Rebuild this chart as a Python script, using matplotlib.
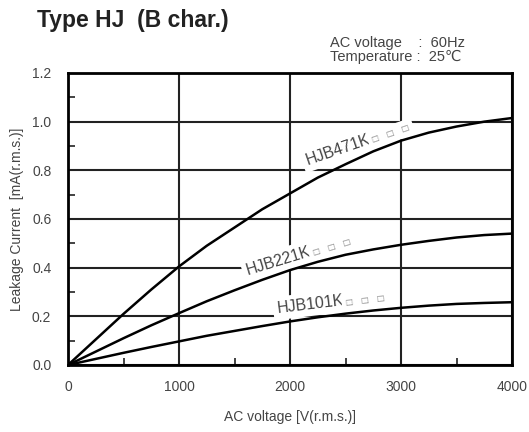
import numpy as np
import matplotlib.pyplot as plt
from matplotlib.ticker import MultipleLocator

plt.rcParams['font.family'] = ['Liberation Sans', 'DejaVu Sans']

# AC voltage [V]
voltage = [0, 250, 500, 750, 1000, 1250, 1500, 1750, 2000,
           2250, 2500, 2750, 3000, 3250, 3500, 3750, 4000]

# leakage current [mA] per part
hjb471k = [0, 0.105, 0.21, 0.31, 0.405, 0.49, 0.565, 0.64, 0.705,
           0.77, 0.825, 0.878, 0.922, 0.955, 0.98, 1.0, 1.015]
hjb221k = [0, 0.055, 0.11, 0.163, 0.213, 0.262, 0.307, 0.35, 0.39,
           0.424, 0.453, 0.475, 0.494, 0.51, 0.524, 0.534, 0.54]
hjb101k = [0, 0.025, 0.05, 0.074, 0.097, 0.12, 0.14, 0.16, 0.179,
           0.196, 0.211, 0.224, 0.235, 0.244, 0.251, 0.255, 0.258]

labels = ['HJB471K', 'HJB221K', 'HJB101K']
label_pos = [(2160, 0.822), (1620, 0.37), (1890, 0.214)]
label_rot = [19, 17, 7]

xticks = [0, 1000, 2000, 3000, 4000]
yticks = [0.0, 0.2, 0.4, 0.6, 0.8, 1.0, 1.2]

fig = plt.figure(figsize=(5.29, 4.32), dpi=100)
ax = fig.add_axes([68 / 529, 1 - 365 / 432, (512 - 68) / 529, (365 - 73) / 432])

grey = '#444444'
for s in (hjb471k, hjb221k, hjb101k):
    ax.plot(voltage, s, color='black', lw=1.8, zorder=3)

renderer = fig.canvas.get_renderer()
for lab, (x, y), r in zip(labels, label_pos, label_rot):
    ax.text(x, y, lab, rotation=r, rotation_mode='anchor', ha='left', va='baseline',
            fontsize=11.5, color=grey, zorder=2.5,
            bbox=dict(facecolor='white', edgecolor='none', pad=3))
    # width of the label along its baseline, in points
    tmp = fig.text(0, 0, lab, fontsize=11.5)
    w = tmp.get_window_extent(renderer).width * 72 / fig.dpi + 1
    tmp.remove()
    c, s_ = np.cos(np.radians(r)), np.sin(np.radians(r))
    ax.annotate('\u25a1   \u25a1   \u25a1', (x, y), xytext=(w * c, w * s_),
                textcoords='offset points', rotation=r, rotation_mode='anchor',
                ha='left', va='baseline', fontsize=6, family='DejaVu Sans',
                color='#888888', zorder=2.5,
                bbox=dict(facecolor='white', edgecolor='none', pad=3))

ax.set_xlim(0, 4000)
ax.set_ylim(0, 1.2)
ax.set_xticks(xticks)
ax.set_yticks(yticks)
ax.set_yticklabels(['%.1f' % v for v in yticks])
ax.xaxis.set_minor_locator(MultipleLocator(500))
ax.yaxis.set_minor_locator(MultipleLocator(0.1))
ax.tick_params(which='major', length=0, labelsize=10, labelcolor=grey)
ax.tick_params(axis='x', which='major', pad=11)
ax.tick_params(axis='y', which='major', pad=12)
ax.tick_params(which='minor', direction='in', length=5, width=1.2, color='#222222')
ax.grid(True, which='major', color='#222222', lw=1.5, zorder=1)
ax.set_axisbelow(True)
for sp in ax.spines.values():
    sp.set_linewidth(2)

ax.set_xlabel('AC voltage [V(r.m.s.)]', fontsize=10, color=grey, labelpad=11)
ax.set_ylabel('Leakage Current  [mA(r.m.s.)]', fontsize=10, color=grey, labelpad=6)

fig.text(37 / 529, 1 - 20 / 432, 'Type HJ  (B char.)', fontsize=16.5, fontweight='bold',
         color='#222222', va='center')
fig.text(330 / 529, 1 - 50 / 432, 'AC voltage    :  60Hz\nTemperature :  25\u2103',
         fontsize=10.5, color=grey, va='center', linespacing=1.05)

fig.savefig('out.png', dpi=100)
